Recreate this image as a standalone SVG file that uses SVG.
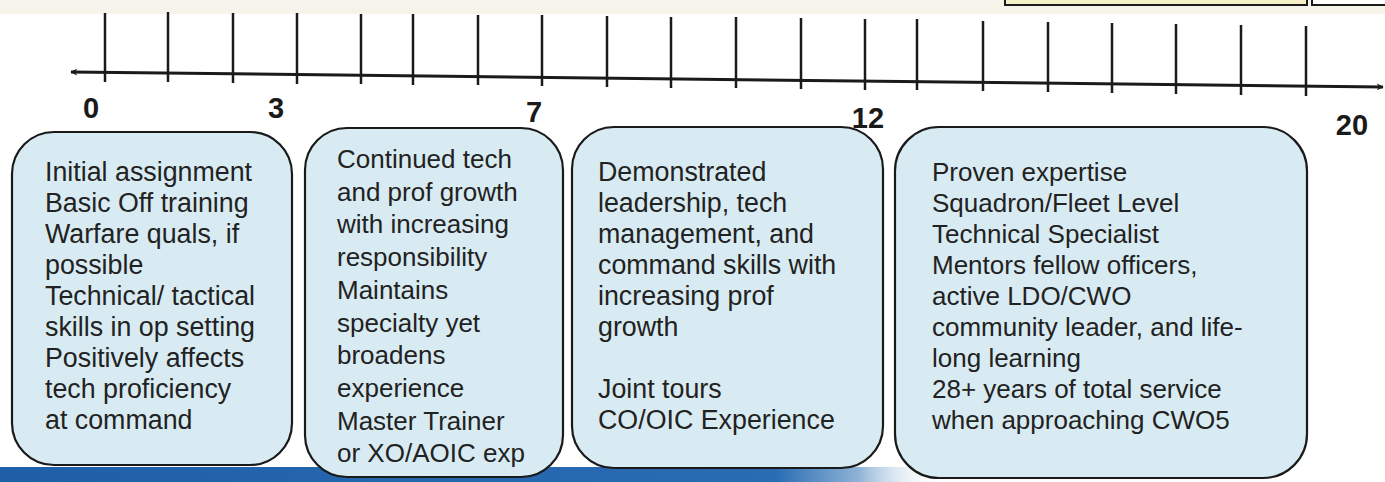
<svg xmlns="http://www.w3.org/2000/svg" width="1385" height="482" viewBox="0 0 1385 482">
<defs>
<style>
.box{fill:#d9ebf2;stroke:#1a1a1a;stroke-width:2.2}
.t{font-family:"Liberation Sans",Arial,sans-serif;font-size:26px;fill:#222}
.w{font-size:26.8px}
.num{font-family:"Liberation Sans",Arial,sans-serif;font-size:29px;font-weight:bold;fill:#1a1a1a;text-anchor:middle}
.tick{stroke:#1a1a1a;stroke-width:2.5}
</style>
<linearGradient id="bar" x1="0" y1="0" x2="1" y2="0">
<stop offset="0" stop-color="#1f5fa8"/>
<stop offset="0.56" stop-color="#2a6cb4"/>
<stop offset="0.62" stop-color="#8fb3d6"/>
<stop offset="0.68" stop-color="#ffffff" stop-opacity="0"/>
</linearGradient>
<marker id="ah" viewBox="0 0 10 10" refX="9" refY="5" markerWidth="7" markerHeight="7" orient="auto-start-reverse" markerUnits="userSpaceOnUse">
<path d="M0,0 L10,5 L0,10 L3,5 z" fill="#1a1a1a"/>
</marker>
</defs>
<rect width="1385" height="482" fill="#ffffff"/>
<rect x="0" y="0" width="1385" height="14" fill="#f6f4ea"/>
<rect x="1005" y="-10" width="302" height="15" fill="#f4efc8" stroke="#1a1a1a" stroke-width="2"/>
<rect x="1312" y="-10" width="80" height="15" fill="#ffffff" stroke="#1a1a1a" stroke-width="2"/>
<rect x="0" y="467" width="1385" height="15" fill="url(#bar)"/>

<g id="connectors">
<line x1="71" y1="72" x2="1383" y2="87" stroke="#1a1a1a" stroke-width="3" marker-start="url(#ah)" marker-end="url(#ah)"/>
<g class="tick">
<line x1="105" y1="13" x2="105" y2="82"/>
<line x1="168" y1="12" x2="168" y2="82"/>
<line x1="233" y1="13" x2="233" y2="83"/>
<line x1="297" y1="13" x2="297" y2="84"/>
<line x1="361" y1="14" x2="361" y2="84"/>
<line x1="413" y1="14" x2="413" y2="85"/>
<line x1="478" y1="15" x2="478" y2="85"/>
<line x1="542" y1="15" x2="542" y2="86"/>
<line x1="607" y1="16" x2="607" y2="87"/>
<line x1="671" y1="17" x2="671" y2="88"/>
<line x1="736" y1="17" x2="736" y2="88"/>
<line x1="801" y1="18" x2="801" y2="89"/>
<line x1="865" y1="19" x2="865" y2="90"/>
<line x1="917" y1="19" x2="917" y2="90"/>
<line x1="983" y1="21" x2="983" y2="91"/>
<line x1="1048" y1="22" x2="1048" y2="92"/>
<line x1="1112" y1="23" x2="1112" y2="93"/>
<line x1="1176" y1="24" x2="1176" y2="94"/>
<line x1="1241" y1="25" x2="1241" y2="95"/>
<line x1="1306" y1="26" x2="1306" y2="96"/>
</g>
</g>

<g id="labels">
<text class="num" x="91" y="118">0</text>
<text class="num" x="276" y="118">3</text>
<text class="num" x="534" y="122">7</text>
<text class="num" x="868" y="128">12</text>
<text class="num" x="1352" y="135">20</text>
</g>

<g id="node1">
<rect class="box" x="12" y="132" width="280" height="333" rx="42" ry="42"/>
<text class="t w" x="45" y="181">
<tspan x="45" dy="0">Initial assignment</tspan>
<tspan x="45" dy="31">Basic Off training</tspan>
<tspan x="45" dy="31">Warfare quals, if</tspan>
<tspan x="45" dy="31">possible</tspan>
<tspan x="45" dy="31">Technical/ tactical</tspan>
<tspan x="45" dy="31">skills in op setting</tspan>
<tspan x="45" dy="31">Positively affects</tspan>
<tspan x="45" dy="31">tech proficiency</tspan>
<tspan x="45" dy="31">at command</tspan>
</text>
</g>

<g id="node2">
<rect class="box" x="305" y="128" width="258" height="349" rx="42" ry="42"/>
<text class="t" x="337" y="168">
<tspan x="337" dy="0">Continued tech</tspan>
<tspan x="337" dy="32.7">and prof growth</tspan>
<tspan x="337" dy="32.7">with increasing</tspan>
<tspan x="337" dy="32.7">responsibility</tspan>
<tspan x="337" dy="32.7">Maintains</tspan>
<tspan x="337" dy="32.7">specialty yet</tspan>
<tspan x="337" dy="32.7">broadens</tspan>
<tspan x="337" dy="32.7">experience</tspan>
<tspan x="337" dy="32.7">Master Trainer</tspan>
<tspan x="337" dy="32.7">or XO/AOIC exp</tspan>
</text>
</g>

<g id="node3">
<rect class="box" x="572" y="127" width="311" height="341" rx="42" ry="42"/>
<text class="t w" x="598" y="181">
<tspan x="598" dy="0">Demonstrated</tspan>
<tspan x="598" dy="31">leadership, tech</tspan>
<tspan x="598" dy="31">management, and</tspan>
<tspan x="598" dy="31">command skills with</tspan>
<tspan x="598" dy="31">increasing prof</tspan>
<tspan x="598" dy="31">growth</tspan>
<tspan x="598" dy="62">Joint tours</tspan>
<tspan x="598" dy="31">CO/OIC Experience</tspan>
</text>
</g>

<g id="node4">
<rect class="box" x="895" y="127" width="412" height="351" rx="44" ry="44"/>
<text class="t" x="932" y="181">
<tspan x="932" dy="0">Proven expertise</tspan>
<tspan x="932" dy="31">Squadron/Fleet Level</tspan>
<tspan x="932" dy="31">Technical Specialist</tspan>
<tspan x="932" dy="31">Mentors fellow officers,</tspan>
<tspan x="932" dy="31">active LDO/CWO</tspan>
<tspan x="932" dy="31">community leader, and life-</tspan>
<tspan x="932" dy="31">long learning</tspan>
<tspan x="932" dy="31">28+ years of total service</tspan>
<tspan x="932" dy="31">when approaching CWO5</tspan>
</text>
</g>
</svg>
